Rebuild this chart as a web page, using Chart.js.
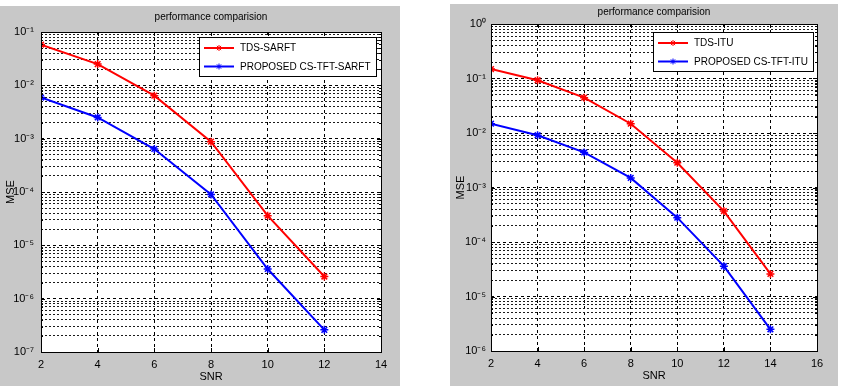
<!DOCTYPE html>
<html>
<head>
  <meta charset="utf-8">
  <title>performance comparision</title>
  <script src="https://cdn.jsdelivr.net/npm/chart.js"></script>
  <style>
    body {
      margin: 0;
      padding: 0;
      background-color: #ffffff;
      width: 844px;
      height: 386px;
      position: relative;
      overflow: hidden;
    }
    .panel {
      position: absolute;
      background-color: #c8c8c8;
    }
    #panel1 { left: 0; top: 6px; width: 400px; height: 380px; }
    #panel2 { left: 450px; top: 4px; width: 388px; height: 382px; }
  </style>
</head>
<body>
  <div class="panel" id="panel1"><canvas id="chart1" width="400" height="380"></canvas></div>
  <div class="panel" id="panel2"><canvas id="chart2" width="388" height="382"></canvas></div>

  <script>
    // left figure (SARFT channel)
    const snrA = [2, 4, 6, 8, 10, 12];
    const tdsSarft = [0.058, 0.025, 0.0064, 0.00088, 0.000036, 0.0000026];
    const propSarft = [0.0059, 0.0025, 0.00064, 0.00009, 0.0000036, 0.00000026];
    const xTicksA = [2, 4, 6, 8, 10, 12, 14];
    const decadesA = [-7, -6, -5, -4, -3, -2, -1];

    // right figure (ITU channel)
    const snrB = [2, 4, 6, 8, 10, 12, 14];
    const tdsItu = [0.149, 0.093, 0.0445, 0.0148, 0.00285, 0.00037, 0.000026];
    const propItu = [0.0148, 0.0091, 0.0044, 0.0015, 0.00028, 0.000036, 0.0000025];
    const xTicksB = [2, 4, 6, 8, 10, 12, 14, 16];
    const decadesB = [-6, -5, -4, -3, -2, -1, 0];

    const FONT = '"Liberation Sans", Arial, sans-serif';
    const SUP = { '-': '\u207B', '0': '\u2070', '1': '\u00B9', '2': '\u00B2', '3': '\u00B3',
      '4': '\u2074', '5': '\u2075', '6': '\u2076', '7': '\u2077', '8': '\u2078', '9': '\u2079' };

    function isDecade(v) {
      const l = Math.log10(v);
      return Math.abs(l - Math.round(l)) < 1e-9;
    }
    function decadeLabel(v) {
      const e = String(Math.round(Math.log10(v)));
      return '10' + e.split('').map(c => SUP[c]).join('');
    }

    // white axes background, frame + inward tick marks like matlab axes
    const axesBox = {
      id: 'axesBox',
      beforeDraw(chart) {
        const { ctx, chartArea: a } = chart;
        ctx.save();
        ctx.fillStyle = '#fff';
        ctx.fillRect(a.left, a.top, a.right - a.left, a.bottom - a.top);
        ctx.restore();
      },
      afterDraw(chart) {
        const { ctx, chartArea: a, scales } = chart;
        ctx.save();
        ctx.strokeStyle = '#000';
        ctx.lineWidth = 1;
        ctx.strokeRect(Math.round(a.left) + 0.5, Math.round(a.top) + 0.5,
          Math.round(a.right - a.left), Math.round(a.bottom - a.top));
        ctx.beginPath();
        scales.x.ticks.forEach(t => {
          const px = Math.round(scales.x.getPixelForValue(t.value)) + 0.5;
          ctx.moveTo(px, a.bottom); ctx.lineTo(px, a.bottom - 4);
          ctx.moveTo(px, a.top); ctx.lineTo(px, a.top + 4);
        });
        scales.y.ticks.forEach(t => {
          const py = Math.round(scales.y.getPixelForValue(t.value)) + 0.5;
          const len = isDecade(t.value) ? 4 : 2;
          ctx.moveTo(a.left, py); ctx.lineTo(a.left + len, py);
          ctx.moveTo(a.right, py); ctx.lineTo(a.right - len, py);
        });
        ctx.stroke();
        ctx.restore();
      }
    };

    // legend box inside the plot, top right
    const boxLegend = {
      id: 'boxLegend',
      afterDraw(chart, args, opts) {
        const { ctx, chartArea: a } = chart;
        const sets = chart.data.datasets;
        ctx.save();
        ctx.font = '10px ' + FONT;
        const textW = Math.max(...sets.map(d => ctx.measureText(d.label).width));
        const w = Math.round(5 + 30 + 6 + textW + 5);
        const h = 39;
        const x = Math.round(a.right - opts.right - w);
        const y = Math.round(a.top + opts.top);
        ctx.fillStyle = '#fff';
        ctx.fillRect(x, y, w, h);
        ctx.strokeStyle = '#000';
        ctx.lineWidth = 1;
        ctx.strokeRect(x + 0.5, y + 0.5, w, h);
        sets.forEach((d, i) => {
          const ry = y + 11 + i * 18.5;
          ctx.strokeStyle = d.borderColor;
          ctx.lineWidth = 2;
          ctx.beginPath();
          ctx.moveTo(x + 5, ry);
          ctx.lineTo(x + 35, ry);
          ctx.stroke();
          if (Chart.helpers && Chart.helpers.drawPoint) {
            ctx.fillStyle = d.borderColor;
            ctx.lineWidth = 1;
            Chart.helpers.drawPoint(ctx, { pointStyle: 'star', radius: 3, borderWidth: 1, rotation: 0 }, x + 20, ry);
          }
          ctx.fillStyle = '#000';
          ctx.textBaseline = 'middle';
          ctx.fillText(d.label, x + 41, ry + 0.5);
        });
        ctx.restore();
      }
    };

    function makeChart(id, snr, red, blue, redLabel, blueLabel, xTicks, decades, lay) {
      const ds = (label, vals, color) => ({
        label: label,
        data: snr.map((s, i) => ({ x: s, y: vals[i] })),
        borderColor: color,
        backgroundColor: color,
        borderWidth: 2,
        pointStyle: 'star',
        pointRadius: 4,
        pointBorderWidth: 1.5,
        tension: 0
      });
      return new Chart(document.getElementById(id), {
        type: 'line',
        data: {
          datasets: [
            ds(redLabel, red, '#ff0000'),
            ds(blueLabel, blue, '#0000ff')
          ]
        },
        options: {
          responsive: false,
          animation: false,
          events: [],
          layout: { padding: { left: 0, top: 0, bottom: 0, right: lay.padRight } },
          scales: {
            x: {
              type: 'linear',
              min: xTicks[0],
              max: xTicks[xTicks.length - 1],
              afterBuildTicks: s => { s.ticks = xTicks.map(v => ({ value: v })); },
              afterFit: s => { s.height = lay.xHeight; },
              grid: { color: '#000', drawTicks: false },
              border: { display: false, dash: [3, 3] },
              ticks: { color: '#000', font: { family: FONT, size: 11 }, padding: 6, maxRotation: 0, autoSkip: false },
              title: { display: true, text: 'SNR', color: '#000', font: { family: FONT, size: 11 }, padding: { top: 0, bottom: lay.snrPad } }
            },
            y: {
              type: 'logarithmic',
              min: Math.pow(10, decades[0]),
              max: Math.pow(10, decades[decades.length - 1]),
              afterBuildTicks: s => {
                const t = [];
                decades.slice(0, -1).forEach(e => {
                  for (let m = 1; m < 10; m++) t.push({ value: m * Math.pow(10, e) });
                });
                t.push({ value: Math.pow(10, decades[decades.length - 1]) });
                s.ticks = t;
              },
              afterFit: s => { s.width = 41; },
              grid: {
                drawTicks: false,
                color: c => isDecade(c.tick.value) ? '#000' : '#1a1a1a'
              },
              border: {
                display: false,
                dash: c => isDecade(c.tick.value) ? [3, 3] : [2, 2]
              },
              ticks: {
                color: '#000',
                font: { family: FONT, size: 11 },
                padding: lay.yPad,
                autoSkip: false,
                callback: v => isDecade(v) ? decadeLabel(v) : ''
              },
              title: { display: true, text: 'MSE', color: '#000', font: { family: FONT, size: 11 }, padding: 4 }
            }
          },
          plugins: {
            legend: { display: false },
            tooltip: { enabled: false },
            title: {
              display: true,
              fullSize: false,
              text: 'performance comparision',
              color: '#000',
              font: { family: FONT, size: 10, weight: 'normal' },
              padding: { top: lay.titleTop, bottom: lay.titleBottom }
            },
            boxLegend: { right: lay.legRight, top: lay.legTop }
          }
        },
        plugins: [axesBox, boxLegend]
      });
    }

    makeChart('chart1', snrA, tdsSarft, propSarft, 'TDS-SARFT', 'PROPOSED CS-TFT-SARFT', xTicksA, decadesA,
      { padRight: 19, xHeight: 34, snrPad: 2, yPad: 7, titleTop: 5, titleBottom: 9, legRight: 5, legTop: 5 });
    makeChart('chart2', snrB, tdsItu, propItu, 'TDS-ITU', 'PROPOSED CS-TFT-ITU', xTicksB, decadesB,
      { padRight: 21, xHeight: 35, snrPad: 3, yPad: 5, titleTop: 2, titleBottom: 6, legRight: 4, legTop: 8 });
  </script>
</body>
</html>
